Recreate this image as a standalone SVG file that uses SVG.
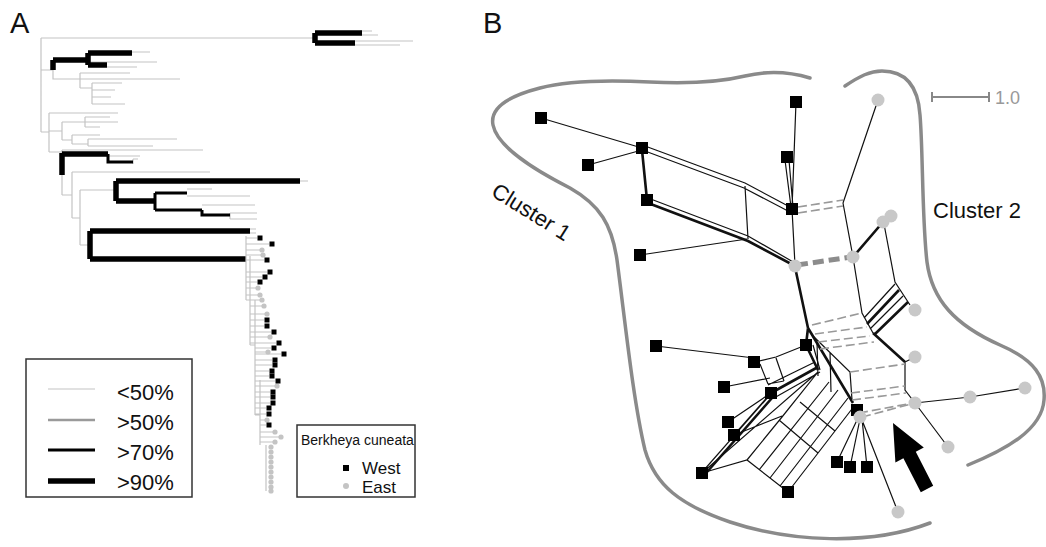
<svg xmlns="http://www.w3.org/2000/svg" width="1046" height="547" viewBox="0 0 1046 547">
<style>
text{font-family:"Liberation Sans",Arial,sans-serif;fill:#111}
.t0{stroke:#c4c4c4;stroke-width:1.2;fill:none}
.t1{stroke:#9a9a9a;stroke-width:2.5;fill:none}
.t2{stroke:#000;stroke-width:3;fill:none}
.t3{stroke:#000;stroke-width:5.5;fill:none;stroke-linejoin:miter}
.sq{fill:#000}
.gd{fill:#c4c4c4}
.ol{stroke:#8a8a8a;stroke-width:3.5;fill:none;stroke-linecap:round}
.e{stroke:#111;stroke-width:1.2;fill:none}
.ek{stroke:#111;stroke-width:2.6;fill:none}
.ed{stroke:#999;stroke-width:1.6;fill:none;stroke-dasharray:9 4}
.edk{stroke:#8c8c8c;stroke-width:5;fill:none;stroke-dasharray:11 5}
.ws{fill:#000}
.es{fill:#c8c8c8}
</style>
<rect width="1046" height="547" fill="#fff"/>
<text x="10" y="33" font-size="29">A</text>
<text x="483" y="33" font-size="29">B</text>
<g id="tree-a">
<path class="t0" d="M41,38V132M41,38H315M360,31H372M360,35H378M355,41H413M355,45H400M41,70H53M53,70V79H80M80,73V88M80,73H130M80,79H180M80,88H92M92,83V104M92,83H122M92,90H115M92,97H111M92,104H125M132,52H150M88,62H157M107,67H137M41,132H49M49,113V152M49,113H118M49,131H62M62,122V140M62,122H85M85,117V127M85,117H110M85,122H118M85,127H100M62,140H72M72,135V144M72,135H100M72,144H88M88,139V146M88,139H177M88,146H153M49,152H62M62,150V195M62,150H203M108,156H140M133,159V164M133,159H138M62,195H72M72,172V218M72,172H210M72,218H80M80,190V245M80,190H116M80,245H90M300,181H308M187,189H212M187,196H250M202,205H255M230,213V219M230,213H257M230,219H257M250,229H256M250,233H256"/>
<path class="t3" d="M315,33V43M315,33H362M315,43H355M53,60V70M53,60H88M88,53V65M88,53H132M88,65H107M62,153V175M62,154H108M116,181V201M116,181H300M116,201H155M90,231V259M90,231H250M90,259H246"/>
<path class="t2" d="M108,154V162H133M155,193V210M155,193H187M155,210H202M202,210V215H230"/>
<path class="t0" d="M246,236V300M250,256V345M255,300V415M260,380V445M266,445V491M246,300H250M250,345H255M255,415H260M246,238H257M246,244H269M246,260H264M246,272H267M246,277H262M246,282H257M250,320H264M250,326H264M250,332H271M250,343H276M255,348H271M255,354H281M255,360H272M255,365H272M255,371H269M255,376H269M255,381H275M255,392H270M255,397H270M255,403H270M255,408H266M255,414H266M260,425H266M246,250H260M246,255H261M246,288H256M246,295H258M250,300H260M250,306H262M250,314H265M250,337H268M255,352H266M255,386H275M260,420H265M260,432H273M260,437H279M260,442H273"/>
</g>
<g id="tree-tips">
<g class="gd">
<circle cx="262" cy="250" r="2.6"/><circle cx="263" cy="255" r="2.6"/><circle cx="258" cy="288" r="2.6"/><circle cx="260" cy="295" r="2.6"/><circle cx="262" cy="300" r="2.6"/><circle cx="264" cy="306" r="2.6"/><circle cx="267" cy="314" r="2.6"/><circle cx="270" cy="337" r="2.6"/><circle cx="268" cy="352" r="2.6"/><circle cx="277" cy="386" r="2.6"/><circle cx="267" cy="420" r="2.6"/><circle cx="275" cy="432" r="2.6"/><circle cx="281" cy="437" r="2.6"/><circle cx="275" cy="442" r="2.6"/>
<circle cx="271" cy="447" r="2.6"/><circle cx="271" cy="452" r="2.6"/><circle cx="271" cy="457" r="2.6"/><circle cx="271" cy="462" r="2.6"/><circle cx="271" cy="467" r="2.6"/><circle cx="271" cy="472" r="2.6"/><circle cx="271" cy="477" r="2.6"/><circle cx="271" cy="482" r="2.6"/><circle cx="271" cy="487" r="2.6"/><circle cx="271" cy="491" r="2.6"/>
</g>
<g class="sq">
<rect x="257.5" y="235.5" width="5" height="5"/><rect x="269.5" y="241.5" width="5" height="5"/><rect x="264.5" y="257.5" width="5" height="5"/><rect x="267.5" y="269.5" width="5" height="5"/><rect x="262.5" y="274.5" width="5" height="5"/><rect x="257.5" y="279.5" width="5" height="5"/><rect x="264.5" y="317.5" width="5" height="5"/><rect x="264.5" y="323.5" width="5" height="5"/><rect x="271.5" y="329.5" width="5" height="5"/><rect x="276.5" y="340.5" width="5" height="5"/><rect x="271.5" y="345.5" width="5" height="5"/><rect x="281.5" y="351.5" width="5" height="5"/><rect x="272.5" y="357.5" width="5" height="5"/><rect x="272.5" y="362.5" width="5" height="5"/><rect x="269.5" y="368.5" width="5" height="5"/><rect x="269.5" y="373.5" width="5" height="5"/><rect x="275.5" y="378.5" width="5" height="5"/><rect x="270.5" y="389.5" width="5" height="5"/><rect x="270.5" y="394.5" width="5" height="5"/><rect x="270.5" y="400.5" width="5" height="5"/><rect x="266.5" y="405.5" width="5" height="5"/><rect x="266.5" y="411.5" width="5" height="5"/><rect x="266.5" y="422.5" width="5" height="5"/>
</g>
</g>
<g id="legend-support">
<rect x="26" y="359" width="166" height="138" fill="#fff" stroke="#333" stroke-width="1.5"/>
<path class="t0" d="M48,389H95"/><path class="t1" d="M48,420H95"/><path class="t2" d="M48,450H95"/><path class="t3" d="M48,481H95"/>
<text x="117" y="400" font-size="22">&lt;50%</text>
<text x="117" y="430" font-size="22">&gt;50%</text>
<text x="117" y="460" font-size="22">&gt;70%</text>
<text x="117" y="490" font-size="22">&gt;90%</text>
</g>
<g id="legend-species">
<rect x="297" y="425" width="118" height="72" fill="#fff" stroke="#333" stroke-width="1.5"/>
<text x="301" y="445" font-size="14">Berkheya cuneata</text>
<rect x="343" y="465" width="6" height="6" fill="#000"/>
<circle cx="346" cy="486" r="3" fill="#c4c4c4"/>
<text x="362" y="474" font-size="17">West</text>
<text x="362" y="493" font-size="17">East</text>
</g>
<g id="outlines">
<path class="ol" d="M810,78C790,72 770,70 745,76C720,82 690,84 650,82C610,80 570,80 540,88C505,97 490,110 493,125C497,145 530,168 570,188C600,205 612,225 617,260C625,320 633,400 645,450C655,485 680,505 730,522C790,542 870,546 930,523"/>
<path class="ol" d="M845,86C860,76 870,71 882,71C905,71 918,85 920,115C923,150 922,220 927,262C932,300 955,325 1000,345C1035,360 1046,378 1044,400C1042,430 1005,450 968,465"/>
<text x="490" y="195" font-size="22" transform="rotate(32 490 195)">Cluster 1</text>
<text x="933" y="218" font-size="22">Cluster 2</text>
<path d="M932,97H989M932,92V102M989,92V102" stroke="#888" stroke-width="2" fill="none"/>
<text x="995" y="104" font-size="18" style="fill:#999">1.0</text>
</g>
<g id="connectors">
<path class="e" d="M541,118L642,148M588,165L642,150M645,146L745,183L790,207M645,151L744,188L788,211M648,198L748,236L795,263M745,186L748,239M640,255L747,239M796,102L792,209M785,160L791,207M789,160L793,207M792,209L795,265M843,203L878,100M843,203L853,257M884,224L895,282L910,305M853,257L862,313L873,333M905,362L905,390L915,403M905,362L915,357M895,284L864,318M903,296L870,329M812,335L850,372L852,400M817,342L818,376M830,352L831,392"/>
<path class="ek" d="M642,150L647,200M648,203L748,241L795,266M853,257L883,222M899,290L867,324M908,302L874,335M873,333L905,362M795,267L808,328M808,328L806,345M808,328L853,403M806,345L818,370"/>
<path class="ed" d="M798,207L843,200M798,213L843,206M812,325L862,313M815,334L867,327M818,342L870,336M820,349L874,342M850,372L905,364M851,393L905,386M852,400L906,393M859,413L913,403"/>
<path class="edk" d="M797,265L851,257"/>
<path class="e" d="M656,346L754,358M755,362L776,357L806,345M760,364L768,384M776,358L784,381M768,384L784,381M724,387L770,378M768,385L815,362M774,398L820,372M813,345L820,370M728,422L771,393M734,435L771,393M734,435L782,416M704,470L769,396M702,473L747,460L788,492M702,473L818,372M759,470L829,382M770,478L838,390M780,486L848,398M788,492L855,405M779,420L818,453M800,402L835,431M747,460L782,417L818,372M837,462L858,418M850,467L860,419M867,467L862,419M898,512L862,420M915,403L970,397L1025,388M915,403L948,447"/>
<path class="ek" d="M771,393L818,367M707,472L772,398"/>
<path class="ed" d="M862,417L915,403"/>
</g>
<g id="w1"><rect class="ws" x="535" y="112" width="12" height="12"/></g>
<g id="w2"><rect class="ws" x="636" y="142" width="12" height="12"/></g>
<g id="w3"><rect class="ws" x="582" y="159" width="12" height="12"/></g>
<g id="w4"><rect class="ws" x="641" y="194" width="12" height="12"/></g>
<g id="w5"><rect class="ws" x="634" y="249" width="12" height="12"/></g>
<g id="w6"><rect class="ws" x="790" y="96" width="12" height="12"/></g>
<g id="w7"><rect class="ws" x="781" y="151" width="12" height="12"/></g>
<g id="w8"><rect class="ws" x="786" y="203" width="12" height="12"/></g>
<g id="w9"><rect class="ws" x="650" y="340" width="12" height="12"/></g>
<g id="w10"><rect class="ws" x="748" y="356" width="12" height="12"/></g>
<g id="w11"><rect class="ws" x="800" y="339" width="12" height="12"/></g>
<g id="w12"><rect class="ws" x="718" y="381" width="12" height="12"/></g>
<g id="w13"><rect class="ws" x="765" y="387" width="12" height="12"/></g>
<g id="w14"><rect class="ws" x="722" y="416" width="12" height="12"/></g>
<g id="w15"><rect class="ws" x="728" y="429" width="12" height="12"/></g>
<g id="w16"><rect class="ws" x="696" y="467" width="12" height="12"/></g>
<g id="w17"><rect class="ws" x="782" y="486" width="12" height="12"/></g>
<g id="w18"><rect class="ws" x="831" y="456" width="12" height="12"/></g>
<g id="w19"><rect class="ws" x="844" y="461" width="12" height="12"/></g>
<g id="w20"><rect class="ws" x="861" y="461" width="12" height="12"/></g>
<g id="w21"><rect class="ws" x="851" y="404" width="12" height="12"/></g>
<g id="e1"><circle class="es" cx="878" cy="100" r="6.5"/></g>
<g id="e2"><circle class="es" cx="891" cy="216" r="6.5"/><circle class="es" cx="883" cy="222" r="6.5"/></g>
<g id="e3"><circle class="es" cx="795" cy="266" r="6.5"/></g>
<g id="e4"><circle class="es" cx="853" cy="257" r="6.5"/></g>
<g id="e5"><circle class="es" cx="915" cy="310" r="6.5"/></g>
<g id="e6"><circle class="es" cx="915" cy="357" r="6.5"/></g>
<g id="e7"><circle class="es" cx="915" cy="403" r="6.5"/></g>
<g id="e8"><circle class="es" cx="970" cy="397" r="6.5"/></g>
<g id="e9"><circle class="es" cx="1025" cy="388" r="6.5"/></g>
<g id="e10"><circle class="es" cx="948" cy="447" r="6.5"/></g>
<g id="e11"><circle class="es" cx="898" cy="512" r="6.5"/></g>
<g id="e12"><circle class="es" cx="860" cy="417" r="6.5"/></g>
<polygon id="arrow" points="893,423 923.8,447.6 915.8,451.8 933.2,485.8 920.8,492.2 903.4,458.2 895.4,462.4" fill="#000"/>
</svg>
